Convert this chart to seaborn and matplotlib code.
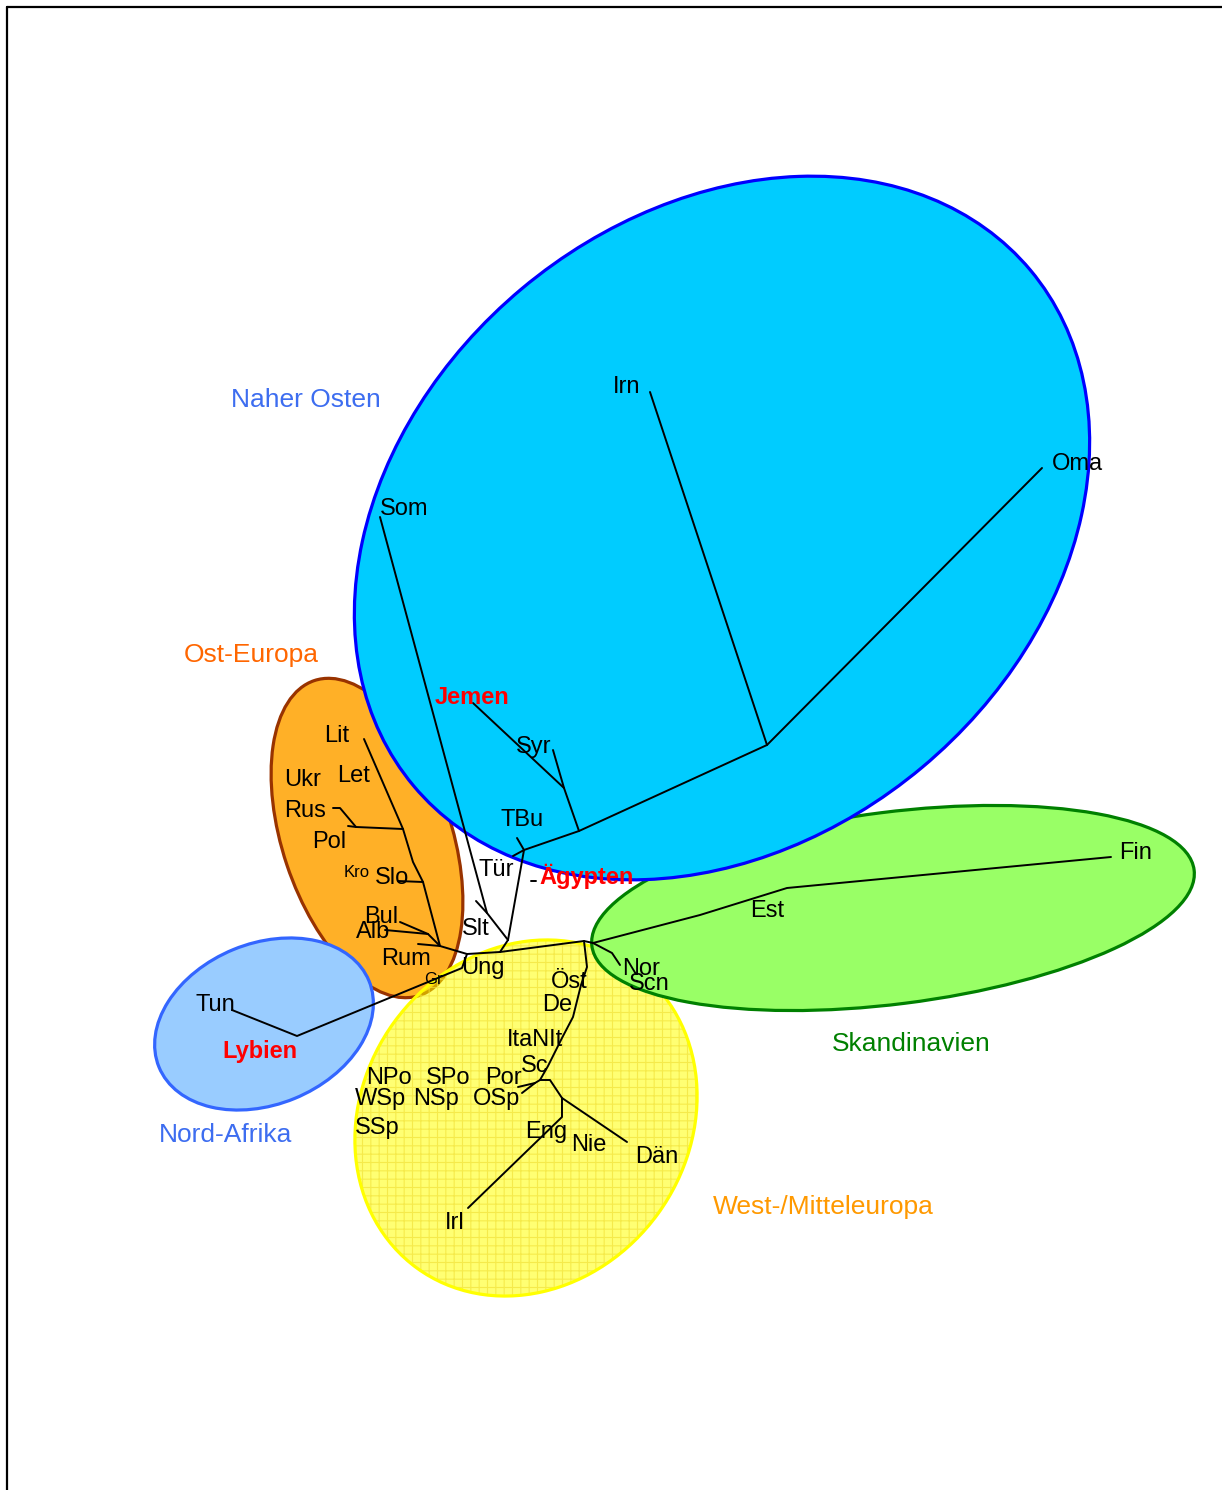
import numpy as np
import pandas as pd
import matplotlib
matplotlib.use("Agg")
import matplotlib.pyplot as plt
from matplotlib.patches import Ellipse
import seaborn as sns

# ---------------------------------------------------------------------------
# Tree nodes (layout coordinates of the unrooted tree, y grows downwards)
# ---------------------------------------------------------------------------
node_names = [
    "U", "M", "J1", "K", "T", "ME1", "SJ", "IO", "J2", "J3", "N1", "F1", "FE",
    "E1", "BA", "E2", "E3", "E4", "PR", "R1", "G1", "L1",
    "W1", "W2", "W3", "W4", "W5", "W6", "PO", "W7", "W8", "W9",
    "Irn", "Oma", "Som", "Jemen", "Syr", "TBu", "Tür", "Slt",
    "Lit", "Pol", "Rus", "Slo", "Bul", "Alb", "Rum", "Tun",
    "Nor", "Fin", "Por", "OSp", "Dän", "Irl", "Äg0", "Äg1",
]
node_x = [
    467, 500, 508, 487, 524, 579, 564, 767, 584, 593, 612, 700, 787,
    440, 428, 423, 413, 403, 356, 340, 462, 297,
    587, 581, 573, 562, 548, 540, 535, 550, 562, 562,
    650, 1042, 380, 473, 553, 517, 513, 476,
    364, 348, 333, 398, 400, 385, 418, 232,
    620, 1111, 518, 522, 627, 468, 531, 536,
]
node_y = [
    954, 952, 940, 913, 850, 831, 788, 745, 941, 943, 953, 915, 888,
    946, 934, 882, 862, 829, 827, 808, 968, 1036,
    967, 985, 1017, 1038, 1066, 1080, 1083, 1080, 1098, 1117,
    392, 468, 517, 703, 750, 838, 856, 901,
    739, 826, 808, 881, 922, 930, 944, 1010,
    965, 857, 1087, 1093, 1142, 1208, 881, 881,
]

# Branches of the tree, each one a path through the nodes above
branches = [
    ["U", "M", "J1"],
    ["J1", "K", "Som"],
    ["K", "Slt"],
    ["J1", "T", "Tür"],
    ["T", "TBu"],
    ["T", "ME1", "SJ", "Jemen"],
    ["SJ", "Syr"],
    ["ME1", "IO", "Irn"],
    ["IO", "Oma"],
    ["M", "J2", "J3", "N1", "Nor"],
    ["J3", "F1", "FE", "Fin"],
    ["U", "E1", "Rum"],
    ["E1", "BA", "Bul"],
    ["BA", "Alb"],
    ["E1", "E2", "Slo"],
    ["E2", "E3", "E4", "Lit"],
    ["E4", "PR", "Pol"],
    ["PR", "R1", "Rus"],
    ["U", "G1", "L1", "Tun"],
    ["J2", "W1", "W2", "W3", "W4", "W5", "W6", "PO", "Por"],
    ["PO", "OSp"],
    ["W6", "W7", "W8", "Dän"],
    ["W8", "W9", "Irl"],
    ["Äg0", "Äg1"],
]

# Taxon labels: text, x, y (cap centre)
leaf_labels = ["Irn", "Oma", "Som", "Syr", "TBu", "Tür", "Slt", "Lit", "Ukr",
               "Let", "Rus", "Pol", "Slo", "Bul", "Alb", "Rum", "Ung", "Tun",
               "Öst", "De", "ItaNIt", "Sc", "NPo", "SPo", "Por", "WSp", "NSp",
               "OSp", "SSp", "Eng", "Nie", "Dän", "Irl", "Nor", "Scn", "Est", "Fin"]
leaf_x = [627, 1077, 404, 534, 522, 496, 476, 337, 303,
          354, 305, 329, 392, 381, 373, 406, 483, 215,
          569, 557, 535, 535, 389, 448, 503, 380, 436,
          497, 377, 546, 589, 657, 455, 641, 649, 767, 1136]
leaf_y = [385, 462, 507, 745, 818, 868, 927, 734, 778,
          774, 809, 840, 876, 915, 930, 957, 966, 1003,
          980, 1003, 1038, 1064, 1076, 1076, 1076, 1097, 1097,
          1097, 1126, 1130, 1143, 1155, 1221, 967, 982, 909, 851]

small_labels = ["Kro", "Gr"]
small_x = [357, 433]
small_y = [871, 978]

key_labels = ["Jemen", "Ägypten", "Lybien"]
key_x = [472, 587, 260]
key_y = [696, 876, 1050]

# Regional groups
group_names = ["Naher Osten", "Ost-Europa", "Nord-Afrika", "Skandinavien",
               "West-/Mitteleuropa"]
group_x = [306, 251, 226, 911, 823]
group_y = [398, 653, 1133, 1042, 1205]
group_text_colors = ["#3D6DF0", "#FF6600", "#3D6DF0", "#008000", "#FF9900"]

# Outline of each group region: centre, axes and tilt
region_cx = [722, 367, 264, 893, 526]
region_cy = [528, 838, 1024, 908, 1118]
region_w = [804, 332, 227, 607, 371]
region_h = [624, 169, 161, 192, 326]
region_angle = [-39.9, 71.5, -22.3, -7.2, -54.0]

# ---------------------------------------------------------------------------
sns.set_theme(style="white")
plt.rcParams["font.family"] = ["Liberation Sans", "DejaVu Sans"]
plt.rcParams["hatch.linewidth"] = 0.8

W, H = 1222, 1490
fig = plt.figure(figsize=(W / 100, H / 100), dpi=100)
ax = fig.add_axes([0, 0, 1, 1])

# Region ellipses (stacking order: orange, light blue, yellow, green, blue)
def region(i, face, edge, z, alpha=1.0):
    ax.add_patch(Ellipse((region_cx[i], region_cy[i]), region_w[i], region_h[i],
                         angle=region_angle[i], facecolor=face, edgecolor=edge,
                         linewidth=2.3, alpha=alpha, zorder=z))

region(1, "#FFB027", "#993300", 1)
region(2, "#99CCFF", "#3366FF", 2)
# yellow region: translucent fill, fine grid, bright outline
ax.add_patch(Ellipse((region_cx[4], region_cy[4]), region_w[4], region_h[4],
                     angle=region_angle[4], facecolor="#FFFF00", edgecolor="none",
                     alpha=0.55, zorder=3))
ax.add_patch(Ellipse((region_cx[4], region_cy[4]), region_w[4], region_h[4],
                     angle=region_angle[4], facecolor="none", edgecolor="#F2E23A",
                     linewidth=0, hatch="++", alpha=0.7, zorder=3.1))
ax.add_patch(Ellipse((region_cx[4], region_cy[4]), region_w[4], region_h[4],
                     angle=region_angle[4], facecolor="none", edgecolor="#FFFF00",
                     linewidth=2.3, zorder=3.2))
region(3, "#99FF66", "#008000", 4)
region(0, "#00CCFF", "#0000FF", 5)

# Tree branches
pos = dict(zip(node_names, zip(node_x, node_y)))
rows = []
for b, path in enumerate(branches):
    for order, name in enumerate(path):
        rows.append({"branch": b, "order": order, "x": pos[name][0], "y": pos[name][1]})
edges = pd.DataFrame(rows)
sns.lineplot(data=edges, x="x", y="y", units="branch", estimator=None, sort=False,
             color="black", linewidth=1.4, ax=ax, legend=False, zorder=10)


def cap_offset(size):
    return 0.716 * size * 100 / 72 / 2


for t, x, y in zip(leaf_labels, leaf_x, leaf_y):
    ax.text(x, y + cap_offset(17), t, fontsize=17, ha="center", va="baseline",
            color="black", zorder=11)
for t, x, y in zip(small_labels, small_x, small_y):
    ax.text(x, y + cap_offset(12), t, fontsize=12, ha="center", va="baseline",
            color="black", zorder=11)
for t, x, y in zip(key_labels, key_x, key_y):
    ax.text(x, y + cap_offset(17), t, fontsize=17, fontweight="bold", ha="center",
            va="baseline", color="#FF0000", zorder=11)
for t, x, y, c in zip(group_names, group_x, group_y, group_text_colors):
    ax.text(x, y + cap_offset(19), t, fontsize=19, ha="center", va="baseline",
            color=c, zorder=11)

ax.set_xlim(0, W)
ax.set_ylim(H, 0)
ax.set_axis_off()

# Frame lines along the top and left edges
ax.axhline(7, xmin=7 / W, xmax=1, color="black", linewidth=1.6, zorder=20)
ax.axvline(7, ymin=0, ymax=1 - 7 / H, color="black", linewidth=1.6, zorder=20)

fig.savefig("out.png", dpi=100)
